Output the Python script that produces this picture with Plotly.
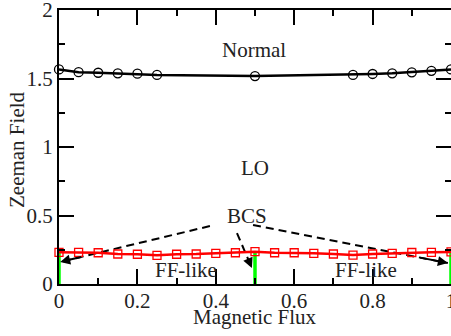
import plotly.graph_objects as go

# ---- data ----
flux_normal = [0.0, 0.05, 0.1, 0.15, 0.2, 0.25, 0.5, 0.75, 0.8, 0.85, 0.9, 0.95, 1.0]
field_normal = [1.566, 1.546, 1.542, 1.538, 1.535, 1.526, 1.518, 1.526, 1.533, 1.538, 1.545, 1.556, 1.566]

flux_ff = [round(0.05 * i, 2) for i in range(21)]
field_ff = [0.231, 0.231, 0.228, 0.219, 0.217, 0.209, 0.217, 0.219, 0.224, 0.228, 0.236,
            0.228, 0.228, 0.224, 0.219, 0.211, 0.219, 0.224, 0.230, 0.231, 0.234]

flux_bcs = [0.0, 0.5, 1.0]
field_bcs_top = [0.231, 0.236, 0.234]

# region labels: (text, x, y)
label_text = ["Normal", "LO", "BCS", "FF-like", "FF-like"]
label_x = [0.497, 0.50, 0.48, 0.324, 0.784]
label_y = [1.71, 0.85, 0.50, 0.10, 0.10]

# BCS arrows (tail -> head)
arrow_tail_x = [0.385, 0.454, 0.495]
arrow_tail_y = [0.423, 0.372, 0.431]
arrow_head_x = [0.003, 0.492, 0.992]
arrow_head_y = [0.161, 0.117, 0.153]

x_ticks = [0, 0.2, 0.4, 0.6, 0.8, 1.0]
x_ticklabels = ["0", "0.2", "0.4", "0.6", "0.8", "1"]
y_ticks = [0, 0.5, 1.0, 1.5, 2.0]
y_ticklabels = ["0", "0.5", "1", "1.5", "2"]

x_title = "Magnetic Flux"
y_title = "Zeeman Field"

FONT = "Liberation Serif"
TXT = "#222"

fig = go.Figure()

# green BCS segments
gx, gy = [], []
for fx, fy in zip(flux_bcs, field_bcs_top):
    gx += [fx, fx, None]
    gy += [0, fy, None]
fig.add_trace(go.Scatter(x=gx, y=gy, mode="lines",
                         line=dict(color="#00ff00", width=3.5), showlegend=False,
                         cliponaxis=False))

# dashed arrow lines
for tx, ty, hx, hy in zip(arrow_tail_x, arrow_tail_y, arrow_head_x, arrow_head_y):
    fig.add_trace(go.Scatter(x=[tx, hx], y=[ty, hy], mode="lines",
                             line=dict(color="black", width=2, dash="8px,5px"),
                             showlegend=False))

fig.add_trace(go.Scatter(x=flux_ff, y=field_ff, mode="lines+markers",
                         line=dict(color="#ff0000", width=2.5),
                         marker=dict(symbol="square-open", size=8,
                                     color="#ff0000", line=dict(width=1.3)),
                         showlegend=False, cliponaxis=False))

fig.add_trace(go.Scatter(x=flux_normal, y=field_normal, mode="lines+markers",
                         line=dict(color="black", width=2.5),
                         marker=dict(symbol="circle-open", size=9,
                                     color="black", line=dict(width=1.3)),
                         showlegend=False, cliponaxis=False))

for t, x, y in zip(label_text, label_x, label_y):
    fig.add_annotation(x=x, y=y, text=t, showarrow=False,
                       font=dict(family=FONT, size=21, color=TXT))

for tx, ty, hx, hy in zip(arrow_tail_x, arrow_tail_y, arrow_head_x, arrow_head_y):
    fig.add_annotation(x=hx, y=hy, ax=hx + 0.15 * (tx - hx), ay=hy + 0.15 * (ty - hy),
                       axref="x", ayref="y", text="", showarrow=True,
                       arrowhead=2, arrowsize=1, arrowwidth=2, arrowcolor="black")

# axis titles as annotations for precise placement
fig.add_annotation(xref="paper", yref="paper", x=0.5, y=0, yshift=-33,
                   xanchor="center", yanchor="middle", text=x_title, showarrow=False,
                   font=dict(family=FONT, size=21, color=TXT))
fig.add_annotation(xref="paper", yref="paper", x=0, y=0.5, xshift=-42, yshift=-3,
                   xanchor="center", yanchor="middle", text=y_title, textangle=-90,
                   showarrow=False, font=dict(family=FONT, size=21, color=TXT))

axis_common = dict(
    showline=True, linecolor="black", linewidth=2, mirror="allticks",
    ticks="inside", ticklen=15, tickwidth=1.5, tickcolor="black",
    showgrid=False, zeroline=False, automargin=False,
    ticklabeloverflow="allow",
    tickfont=dict(family=FONT, size=21, color=TXT),
)

fig.update_xaxes(range=[0, 1], tickvals=x_ticks, ticktext=x_ticklabels,
                 ticklabelstandoff=-3,
                 minor=dict(dtick=0.1, ticks="inside", ticklen=6, tickwidth=1.5,
                            tickcolor="black"),
                 **axis_common)
fig.update_yaxes(range=[0, 2], tickvals=y_ticks, ticktext=y_ticklabels,
                 minor=dict(dtick=0.25, ticks="inside", ticklen=6, tickwidth=1.5,
                            tickcolor="black"),
                 **axis_common)

fig.update_layout(width=451, height=336,
                  font=dict(family=FONT, size=21, color=TXT),
                  margin=dict(l=59, r=0, t=10, b=52),
                  paper_bgcolor="white", plot_bgcolor="white")

fig.write_html("out.html", config={"displayModeBar": False},
               post_script="document.body.style.margin='0px';document.body.style.padding='0px';")
